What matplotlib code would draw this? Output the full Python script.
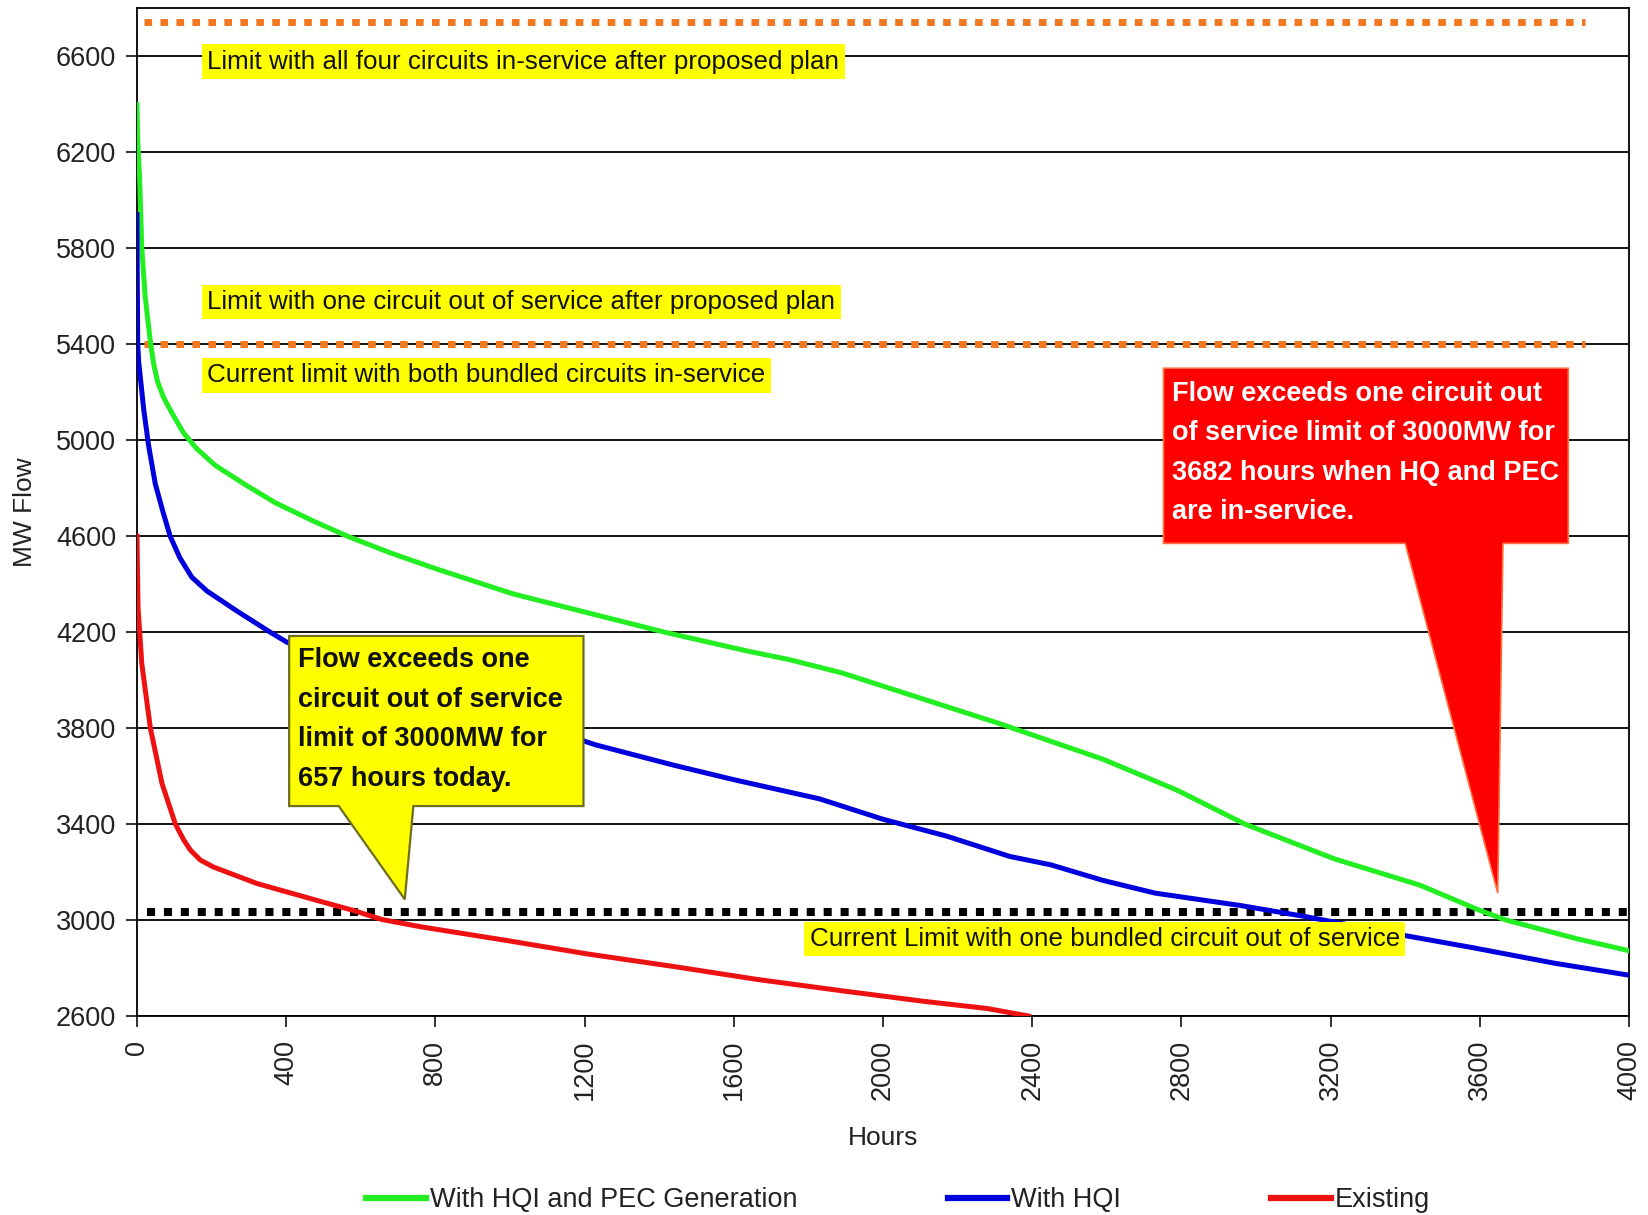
import matplotlib
matplotlib.use('Agg')
import matplotlib.pyplot as plt
from matplotlib.patches import Polygon
from matplotlib.lines import Line2D

plt.rcParams['font.family'] = ['Liberation Sans', 'DejaVu Sans']

# duration curves (hours, MW)
hours_pec = [0, 2, 7, 13, 22, 30, 37, 44, 55, 71, 95, 125, 160, 210, 290, 370, 470, 564,
             680, 800, 1007, 1210, 1414, 1640, 1750, 1890, 2030, 2310, 2590, 2790, 2970,
             3210, 3440, 3600, 3670, 3860, 4000]
flow_pec = [6400, 6250, 6096, 5800, 5600, 5490, 5400, 5325, 5245, 5180, 5110, 5030,
            4965, 4895, 4815, 4740, 4665, 4600, 4530, 4465, 4360, 4280, 4200, 4120,
            4085, 4030, 3960, 3820, 3670, 3540, 3400, 3255, 3145, 3040, 3000, 2922, 2872]

hours_hqi = [0, 1, 2, 5, 9, 18, 31, 49, 70, 89, 115, 147, 188, 268, 357, 402, 600, 800,
             1000, 1230, 1440, 1600, 1830, 2000, 2170, 2340, 2450, 2590, 2730, 2960,
             3130, 3400, 3580, 3800, 4000]
flow_hqi = [5940, 5650, 5400, 5320, 5263, 5130, 4980, 4819, 4700, 4600, 4510, 4429,
            4371, 4288, 4200, 4158, 4056, 3952, 3848, 3730, 3645, 3585, 3505, 3420,
            3350, 3265, 3230, 3165, 3112, 3060, 3015, 2935, 2885, 2820, 2770]

hours_exist = [0, 3, 13, 36, 67, 103, 125, 143, 170, 205, 322, 482, 580, 657, 760, 990,
               1210, 1440, 1660, 1890, 2110, 2280, 2390]
flow_exist = [4600, 4300, 4068, 3800, 3570, 3400, 3335, 3292, 3250, 3221, 3152, 3082,
              3040, 3002, 2972, 2915, 2858, 2806, 2753, 2705, 2661, 2631, 2600]

series_names = ['With HQI and PEC Generation', 'With HQI', 'Existing']
series_colors = ['#22EE22', '#0000DD', '#EE1111']

# limits (MW)
limit_four_in = 6745
limit_one_out_plan = 5400
limit_one_out_now = 3035

fig = plt.figure(figsize=(16.48, 12.15), dpi=100)
ax = fig.add_axes([0.0831, 0.1638, 0.9054, 0.8293])
ax.set_xlim(0, 4000)
ax.set_ylim(2600, 6800)
ax.set_xticks(range(0, 4001, 400))
ax.set_yticks(range(2600, 6601, 400))
ax.set_axisbelow(True)
ax.yaxis.grid(True, color='black', lw=1.3)
for s in ax.spines.values():
    s.set_linewidth(1.3)
ax.tick_params(axis='both', labelsize=19.5, colors='#222222', length=8, width=1.3, pad=7)
ax.tick_params(axis='x', labelrotation=90, pad=9)

# limit lines
ax.plot([20, 3882], [limit_four_in] * 2, color='#F07820', lw=5, ls=(0, (1.1, 1.2)),
        dash_capstyle='butt', zorder=2)
ax.plot([20, 3882], [limit_one_out_plan] * 2, color='#F07820', lw=5, ls=(0, (1.1, 1.2)),
        dash_capstyle='butt', zorder=2)
ax.plot([28, 4000], [limit_one_out_now] * 2, color='black', lw=5.8, ls=(0, (1, 1.1)),
        dash_capstyle='butt', zorder=2)

for xs, ys, c in zip([hours_pec, hours_hqi, hours_exist],
                     [flow_pec, flow_hqi, flow_exist], series_colors):
    ax.plot(xs, ys, color=c, lw=3.6, zorder=3, solid_joinstyle='round')

ax.set_xlabel('Hours', fontsize=19, color='#222222')
ax.xaxis.set_label_coords(0.5, -0.109)
ax.set_ylabel('MW Flow', fontsize=19, color='#222222')
ax.yaxis.set_label_coords(-0.067, 0.5)

# yellow limit labels
box = dict(boxstyle='square,pad=0.2', fc='#FFFF00', ec='none')
ax.text(189, 6578, 'Limit with all four circuits in-service after proposed plan',
        fontsize=18.7, va='center', ha='left', color='#111111', bbox=box, zorder=5)
ax.text(189, 5576, 'Limit with one circuit out of service after proposed plan',
        fontsize=18.7, va='center', ha='left', color='#111111', bbox=box, zorder=5)
ax.text(189, 5270, 'Current limit with both bundled circuits in-service',
        fontsize=18.7, va='center', ha='left', color='#111111', bbox=box, zorder=5)
ax.text(1803, 2920, 'Current Limit with one bundled circuit out of service',
        fontsize=18.7, va='center', ha='left', color='#111111', bbox=box, zorder=5)

# callouts
yellow_pts = [(408, 4184), (1197, 4184), (1197, 3475), (741, 3475), (718, 3086),
              (541, 3475), (408, 3475)]
ax.add_patch(Polygon(yellow_pts, closed=True, fc='#FFFF00', ec='#6E6E1E', lw=1.6,
                     zorder=6, clip_on=False))
ax.text(431, 4136, 'Flow exceeds one\ncircuit out of service\nlimit of 3000MW for\n657 hours today.',
        fontsize=19.5, fontweight='bold', va='top', ha='left', linespacing=1.67,
        color='#111111', zorder=7)

red_pts = [(2752, 5300), (3837, 5300), (3837, 4570), (3662, 4570), (3648, 3112),
           (3400, 4570), (2752, 4570)]
ax.add_patch(Polygon(red_pts, closed=True, fc='#FF0000', ec='#FF7040', lw=1.2,
                     zorder=6, clip_on=False))
ax.text(2775, 5248, 'Flow exceeds one circuit out\nof service limit of 3000MW for\n3682 hours when HQ and PEC\nare in-service.',
        fontsize=19.5, fontweight='bold', va='top', ha='left', linespacing=1.67,
        color='white', zorder=7)

handles = [Line2D([], [], color=c, lw=4.5) for c in series_colors]
fig.legend(handles, series_names, loc='center', bbox_to_anchor=(0.545, 0.012), ncol=3,
           frameon=False, fontsize=19.5, handlelength=2.2, handletextpad=0.15,
           columnspacing=5.55, labelcolor='#222222')

fig.savefig('out.png', dpi=100, facecolor='white')
